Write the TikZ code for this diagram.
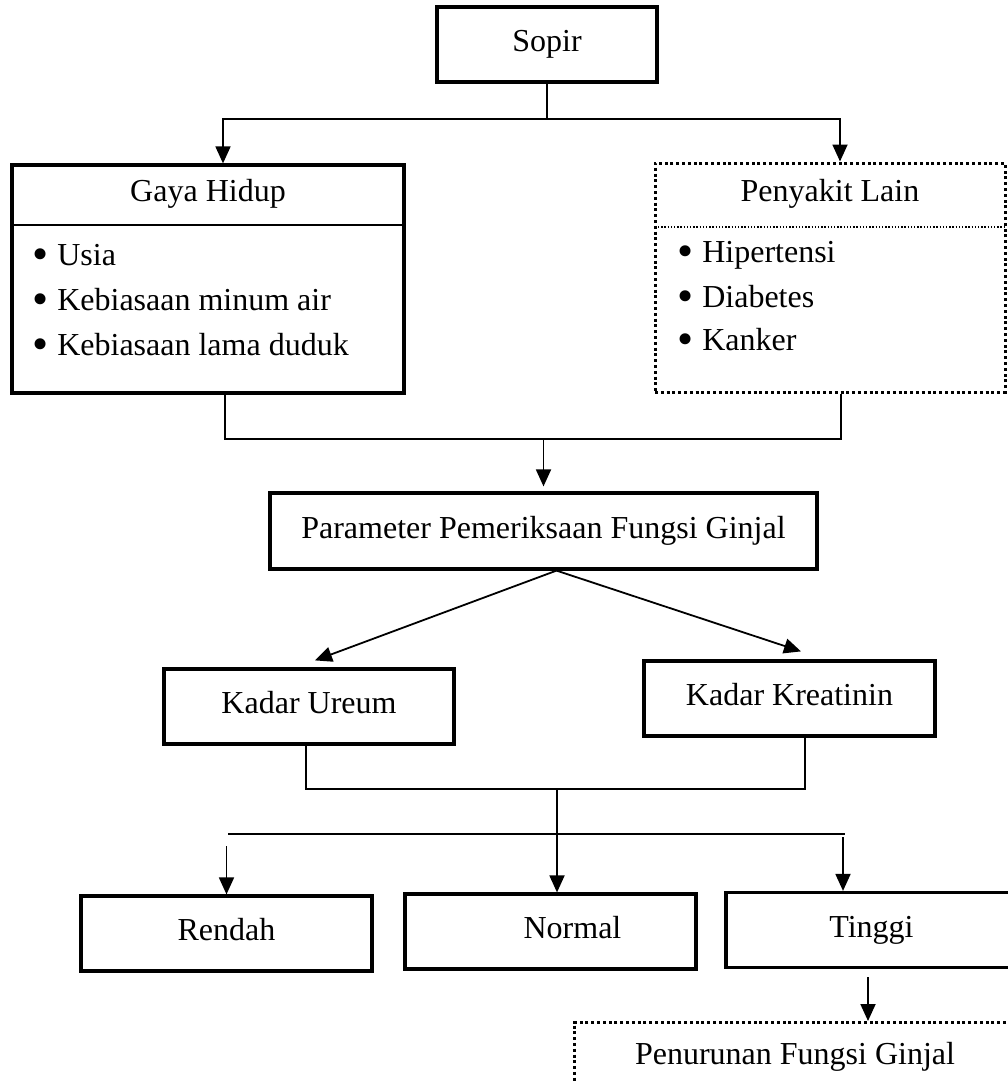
\documentclass[tikz,border=0pt]{standalone}
\usepackage{fontspec}
\setmainfont{Liberation Serif}
\usetikzlibrary{arrows.meta, positioning}
\newcommand{\bul}{\raisebox{-4pt}{\fontsize{46}{46}\selectfont\textbullet}\hspace{9pt}}
\tikzset{
  box/.style={rectangle, draw, line width=3.2pt, minimum width=291pt, minimum height=75pt,
    align=center, text height=22pt, text depth=8pt, inner sep=0pt},
  boxDot/.style={box, line width=3pt, dash pattern=on 3pt off 2.8pt},
  title/.style={rectangle, inner sep=0pt, text height=22pt, text depth=8pt},
  item/.style={inner sep=0pt, anchor=base west},
  line/.style={line width=1.7pt},
  divider/.style={line width=1.6pt},
  dividerDot/.style={line width=1.4pt, dash pattern=on 1.4pt off 1.8pt},
  arrow/.style={-{Triangle[length=17pt, width=15pt]}, line width=1.8pt},
}
\begin{document}
\begin{tikzpicture}[x=1pt, y=-1pt, font=\fontsize{32}{38}\selectfont]
\clip (0,0) rectangle (1008,1082);
\node[box, minimum width=220pt] (sopir) at (547,44.5) {Sopir};
\node[box, minimum width=392pt, minimum height=228pt] (gaya) at (208,279) {};
\node[title, minimum width=392pt, minimum height=61pt, anchor=north] (gayaT) at (gaya.north) {Gaya Hidup};
\draw[divider] (gayaT.south west) -- (gayaT.south east);
\node[item] (usia) at (32,265) {\bul Usia};
\node[item] (minum) at (32,310) {\bul Kebiasaan minum air};
\node[item] (duduk) at (32,355) {\bul Kebiasaan lama duduk};
\node[boxDot, minimum width=350pt, minimum height=229pt] (peny) at (830,277.5) {};
\node[title, minimum width=350pt, minimum height=65pt, anchor=north] (penyT) at (peny.north) {Penyakit Lain};
\draw[dividerDot] (penyT.south west) -- (penyT.south east);
\node[item] (hiper) at (677,262) {\bul Hipertensi};
\node[item] (diab) at (677,307) {\bul Diabetes};
\node[item] (kanker) at (677,350) {\bul Kanker};
\node[box, minimum width=547pt, minimum height=76pt] (param) at (543.5,531) {Parameter Pemeriksaan Fungsi Ginjal};
\node[box, minimum width=290pt] (ureum) at (309,706.5) {Kadar Ureum};
\node[box] (kreat) at (789.5,698.5) {Kadar Kreatinin};
\node[box] (rendah) at (226.5,933.5) {Rendah};
\node[box] (normal) at (550.5,931.5) {\hspace{44pt}Normal};
\node[box] (tinggi) at (871.5,930) {Tinggi};
\node[boxDot, minimum width=442pt, minimum height=70pt, anchor=north] (turun) at (795,1021) {Penurunan Fungsi Ginjal};
\coordinate (split) at (sopir.south |- 0,119);
\draw[line] (sopir.south) -- (split);
\draw[arrow] (split) -| ([xshift=15pt]gaya.north);
\draw[arrow] (split) -| ([xshift=10pt]peny.north);
\coordinate (join1) at (param.north |- 0,439);
\draw[line] ([xshift=17pt]gaya.south) |- (join1) -| ([xshift=11pt]peny.south);
\draw[arrow, shorten >=5pt] (join1) -- (param.north);
\draw[arrow] ([xshift=13pt]param.south) -- ([xshift=6pt, yshift=7pt]ureum.north);
\draw[arrow] ([xshift=13pt]param.south) -- ([xshift=11.5pt, yshift=8pt]kreat.north);
\coordinate (join2) at (557,789);
\draw[line] ([xshift=-3pt]ureum.south) |- (join2) -| ([xshift=15.5pt]kreat.south);
\draw[arrow] (join2) -- ([xshift=6.5pt]normal.north);
\coordinate (spreadL) at (228,834);
\coordinate (spreadR) at (845,834);
\draw[line] (spreadL) -- (spreadR);
\draw[arrow] ([yshift=-12pt]rendah.north |- spreadL) -- (rendah.north);
\draw[arrow] ([xshift=-28.5pt, yshift=-3pt]tinggi.north |- spreadR) -- ([xshift=-28.5pt]tinggi.north);
\draw[arrow] ([xshift=-3.5pt, yshift=-8pt]tinggi.south) -- ([xshift=-3.5pt]tinggi.south |- turun.north);
\end{tikzpicture}
\end{document}
